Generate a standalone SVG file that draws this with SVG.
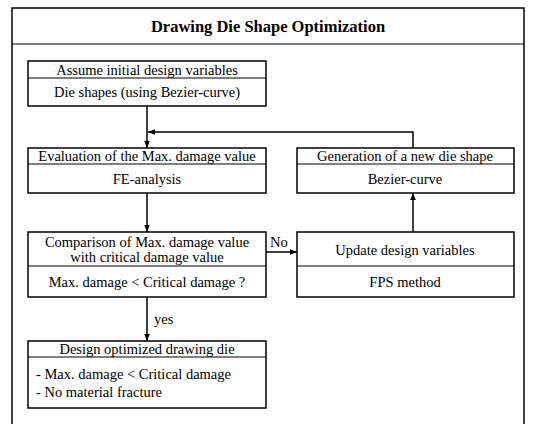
<svg xmlns="http://www.w3.org/2000/svg" width="537" height="424" viewBox="0 0 537 424">
  <defs>
    <marker id="arrow" viewBox="0 0 10 10" refX="10" refY="5" markerWidth="7" markerHeight="7" orient="auto" markerUnits="userSpaceOnUse">
      <path d="M0,1 L10,5 L0,9 z" fill="#000"/>
    </marker>
  </defs>
  <style>
    .frame { fill: none; stroke: #000; stroke-width: 1.5; }
    .box { fill: #fff; stroke: #000; stroke-width: 1.5; }
    .div { stroke: #000; stroke-width: 1.2; }
    .t { font-family: "Liberation Serif", "Times New Roman", serif; font-size: 14.5px; fill: #000; text-anchor: middle; }
    .tl { font-family: "Liberation Serif", "Times New Roman", serif; font-size: 14.5px; fill: #000; }
    .title { font-family: "Liberation Serif", "Times New Roman", serif; font-size: 16.5px; font-weight: bold; fill: #000; text-anchor: middle; }
    .conn { fill: none; stroke: #000; stroke-width: 1.5; }
  </style>
  <rect width="537" height="424" fill="#fff"/>

  <!-- outer frame, open at the bottom -->
  <g id="frame">
    <path class="frame" d="M12,424 V8 H524 V424"/>
    <line class="div" x1="12" y1="44" x2="524" y2="44"/>
    <text class="title" x="268" y="32">Drawing Die Shape Optimization</text>
  </g>

  <g id="assume">
    <rect class="box" x="28" y="61" width="238" height="45"/>
    <line class="div" x1="28" y1="78" x2="266" y2="78"/>
    <text class="t" x="147" y="75">Assume initial design variables</text>
    <text class="t" x="147" y="97">Die shapes (using Bezier-curve)</text>
  </g>

  <g id="evaluation">
    <rect class="box" x="28" y="148" width="238" height="45"/>
    <line class="div" x1="28" y1="164" x2="266" y2="164"/>
    <text class="t" x="147" y="161">Evaluation of the Max. damage value</text>
    <text class="t" x="147" y="184">FE-analysis</text>
  </g>

  <g id="comparison">
    <rect class="box" x="28" y="232" width="238" height="65"/>
    <line class="div" x1="28" y1="266" x2="266" y2="266"/>
    <text class="t" x="147" y="247">Comparison of Max. damage value</text>
    <text class="t" x="147" y="262">with critical damage value</text>
    <text class="t" x="147" y="287">Max. damage &lt; Critical damage ?</text>
  </g>

  <g id="design">
    <rect class="box" x="28" y="341" width="238" height="67"/>
    <line class="div" x1="28" y1="357" x2="266" y2="357"/>
    <text class="t" x="147" y="354">Design optimized drawing die</text>
    <text class="tl" x="36" y="379">- Max. damage &lt; Critical damage</text>
    <text class="tl" x="36" y="397">- No material fracture</text>
  </g>

  <g id="generation">
    <rect class="box" x="297" y="148" width="217" height="45"/>
    <line class="div" x1="297" y1="164" x2="514" y2="164"/>
    <text class="t" x="405" y="161">Generation of a new die shape</text>
    <text class="t" x="405" y="184">Bezier-curve</text>
  </g>

  <g id="update">
    <rect class="box" x="297" y="232" width="217" height="65"/>
    <line class="div" x1="297" y1="266" x2="514" y2="266"/>
    <text class="t" x="405" y="255">Update design variables</text>
    <text class="t" x="405" y="287">FPS method</text>
  </g>

  <g id="connectors">
    <line class="conn" x1="147" y1="106" x2="147" y2="148" marker-end="url(#arrow)"/>
    <polyline class="conn" points="413,148 413,132 148,132" marker-end="url(#arrow)"/>
    <line class="conn" x1="147" y1="193" x2="147" y2="232" marker-end="url(#arrow)"/>
    <line class="conn" x1="266" y1="252" x2="297" y2="252" marker-end="url(#arrow)"/>
    <text class="tl" x="270" y="247">No</text>
    <line class="conn" x1="413" y1="232" x2="413" y2="193" marker-end="url(#arrow)"/>
    <line class="conn" x1="147" y1="297" x2="147" y2="341" marker-end="url(#arrow)"/>
    <text class="tl" x="154" y="324">yes</text>
  </g>
</svg>
